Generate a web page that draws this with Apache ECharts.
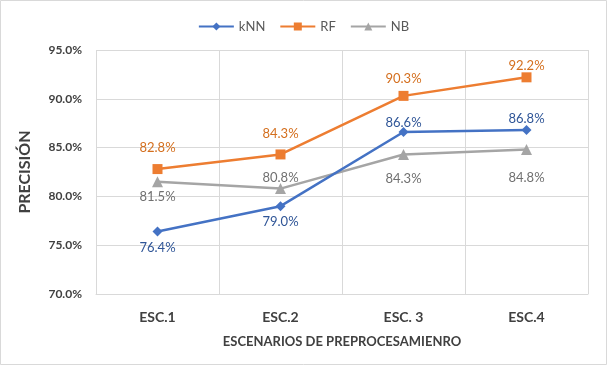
<!DOCTYPE html>
<html>
<head>
<meta charset="utf-8">
<script src="https://cdn.jsdelivr.net/npm/echarts@6/dist/echarts.min.js"></script>
<style>
html,body{margin:0;padding:0;background:#fff;}
#chart{width:607px;height:365px;}
</style>
</head>
<body>
<div id="chart"></div>
<script>
const categories = ['ESC.1', 'ESC.2', 'ESC. 3', 'ESC.4'];
const knn = [76.4, 79.0, 86.6, 86.8];
const rf = [82.8, 84.3, 90.3, 92.2];
const nb = [81.5, 80.8, 84.3, 84.8];
const yTicks = {min: 70, max: 95, interval: 5};

// label vertical offsets (style only)
const knnLabelDy = [16, 16, -9, -11];
const rfLabelDy = [-21, -21, -17, -12];
const nbLabelDy = [15, -11, 24, 28];

const FONT = 'Lato';

function mk(values, dys) {
  return values.map((v, i) => ({
    value: v,
    label: {offset: [0, dys[i]]}
  }));
}

const chart = echarts.init(document.getElementById('chart'));
chart.setOption({
  backgroundColor: '#fff',
  textStyle: {fontFamily: FONT},
  animation: false,
  graphic: [{
    type: 'rect', shape: {x: 0.5, y: 0.5, width: 606, height: 364},
    style: {fill: 'none', stroke: '#d9d9d9', lineWidth: 1}, silent: true
  }],
  legend: {
    top: 15, left: 'center',
    itemWidth: 35, itemHeight: 10, itemGap: 14,
    textStyle: {fontFamily: FONT, fontSize: 13, color: '#595959'},
    data: ['kNN', 'RF', 'NB']
  },
  grid: {left: 96, right: 19, top: 50, bottom: 71},
  xAxis: {
    type: 'category',
    data: categories,
    boundaryGap: true,
    name: 'ESCENARIOS DE PREPROCESAMIENRO',
    nameLocation: 'middle',
    nameGap: 41,
    nameTextStyle: {fontFamily: FONT, fontSize: 13, color: '#404040', fontWeight: 'bold'},
    axisLine: {lineStyle: {color: '#d9d9d9', width: 1}},
    axisTick: {show: false},
    splitLine: {show: true, lineStyle: {color: '#d9d9d9', width: 1}},
    axisLabel: {fontFamily: FONT, fontSize: 14, fontWeight: 'bold', color: '#404040', margin: 16}
  },
  yAxis: {
    type: 'value',
    min: yTicks.min, max: yTicks.max, interval: yTicks.interval,
    name: 'PRECISIÓN',
    nameLocation: 'middle',
    nameRotate: 90,
    nameGap: 63,
    nameTextStyle: {fontFamily: FONT, fontSize: 16, color: '#404040', fontWeight: 'bold'},
    axisLine: {show: false},
    axisTick: {show: false},
    splitLine: {lineStyle: {color: '#d9d9d9', width: 1}},
    axisLabel: {
      fontFamily: FONT, fontSize: 12, fontWeight: 'bold', color: '#404040', margin: 14,
      formatter: v => v.toFixed(1) + '%'
    }
  },
  series: [
    {
      name: 'kNN', type: 'line', data: mk(knn, knnLabelDy),
      symbol: 'diamond', symbolSize: 10,
      lineStyle: {color: '#4472C4', width: 2.5},
      itemStyle: {color: '#4472C4'},
      label: {show: true, position: 'inside', color: '#2F5597', fontSize: 13, fontFamily: FONT,
        formatter: p => p.value.toFixed(1) + '%'},
      z: 3
    },
    {
      name: 'RF', type: 'line', data: mk(rf, rfLabelDy),
      symbol: 'rect', symbolSize: 10,
      lineStyle: {color: '#ED7D31', width: 2.5},
      itemStyle: {color: '#ED7D31'},
      label: {show: true, position: 'inside', color: '#D46F1E', fontSize: 13, fontFamily: FONT,
        formatter: p => p.value.toFixed(1) + '%'},
      z: 2
    },
    {
      name: 'NB', type: 'line', data: mk(nb, nbLabelDy),
      symbol: 'triangle', symbolSize: 11,
      lineStyle: {color: '#A5A5A5', width: 2.5},
      itemStyle: {color: '#A5A5A5'},
      label: {show: true, position: 'inside', color: '#707070', fontSize: 13, fontFamily: FONT,
        formatter: p => p.value.toFixed(1) + '%'},
      z: 1
    }
  ]
});
</script>
</body>
</html>
